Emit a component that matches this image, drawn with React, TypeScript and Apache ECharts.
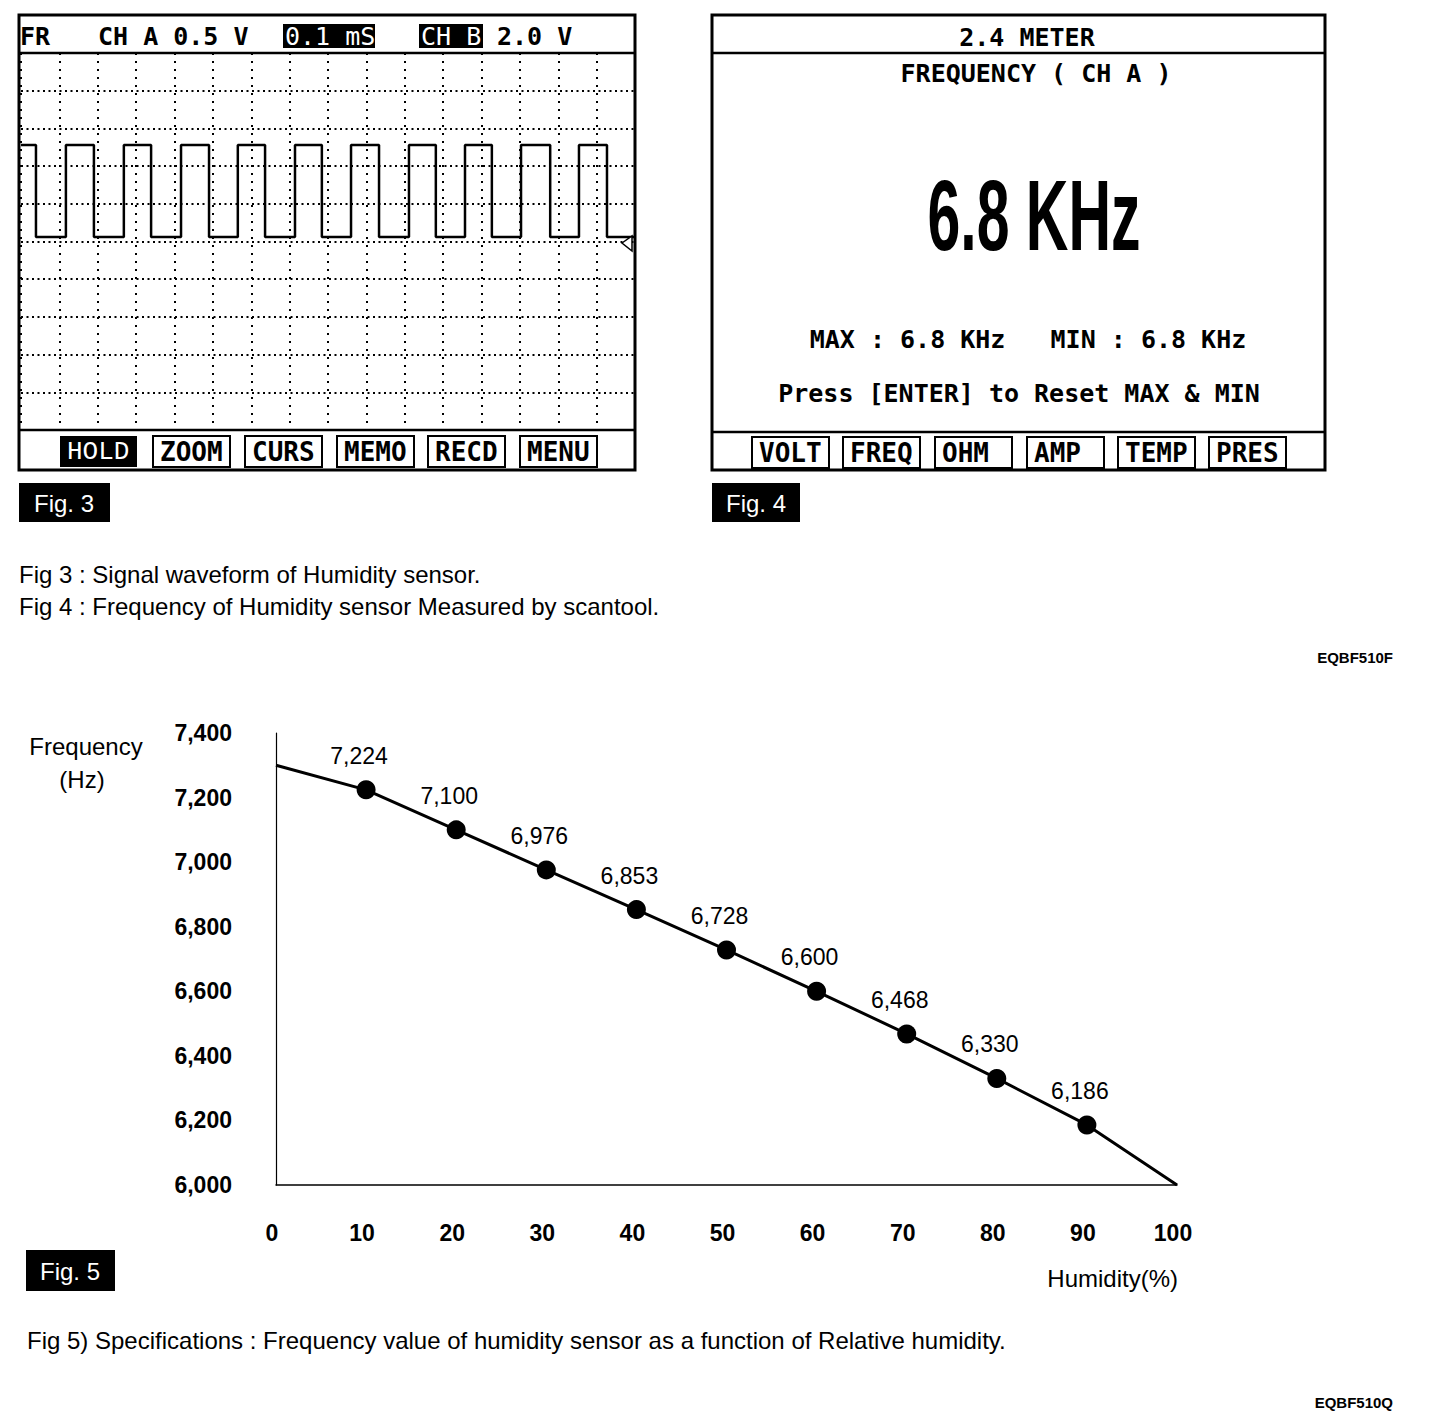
import { useEffect, useRef } from "react";
import * as echarts from "echarts";

// ---------------- Fig 5 data ----------------
const humidityPct = [0, 10, 20, 30, 40, 50, 60, 70, 80, 90, 100];
const frequencyHz = [7300, 7224, 7100, 6976, 6853, 6728, 6600, 6468, 6330, 6186, 6000];
const markedHumidity = [10, 20, 30, 40, 50, 60, 70, 80, 90];
const freqAxisMin = 6000;
const freqAxisMax = 7400;
const freqStep = 200;
const humAxisMin = 0;
const humAxisMax = 100;
const humStep = 10;

// ---------------- Fig 3 scope trace (screen divisions) ----------------
const scopeFallTimes = [0.39, 1.9, 3.39, 4.9, 6.36, 7.84, 9.33, 10.81, 12.27, 13.79, 15.27];
const scopeRiseTimes = [1.17, 2.68, 4.17, 5.65, 7.14, 8.6, 10.11, 11.57, 13.03, 14.54];
const scopeHighLevel = 7.56;
const scopeLowLevel = 5.12;
const scopeDivX = 16;
const scopeDivY = 10;

// ---------------- texts ----------------
const scopeButtons = ["HOLD", "ZOOM", "CURS", "MEMO", "RECD", "MENU"];
const meterButtons = ["VOLT", "FREQ", "OHM", "AMP", "TEMP", "PRES"];
const meterTitle = "2.4 METER";
const meterMode = "FREQUENCY ( CH A )";
const meterReading = "6.8 KHz";
const meterMaxMin = "MAX : 6.8 KHz   MIN : 6.8 KHz";
const meterHint = "Press [ENTER] to Reset MAX & MIN";
const caption3 = "Fig 3 : Signal waveform of Humidity sensor.";
const caption4 = "Fig 4 : Frequency of Humidity sensor Measured by scantool.";
const caption5 = "Fig 5) Specifications : Frequency value of humidity sensor as a function of Relative humidity.";
const code1 = "EQBF510F";
const code2 = "EQBF510Q";

const MONO = "'DejaVu Sans Mono', monospace";
const SANS = "'Liberation Sans', Arial, sans-serif";

function fmt(v: number): string {
  return v.toLocaleString("en-US");
}

function txt(x: number, y: number, text: string, o: any = {}) {
  const align = o.align || "left";
  const va = o.va || "middle";
  const el: any = {
    type: "text",
    x,
    y,
    z: o.z ?? 20,
    style: {
      text,
      fill: o.fill || "#000",
      fontSize: o.size || 20,
      fontFamily: o.family || SANS,
      fontWeight: o.weight || "normal",
      align,
      verticalAlign: va,
      textAlign: align,
      textVerticalAlign: va,
    },
  };
  if (o.scaleX) el.scaleX = o.scaleX;
  return el;
}

function rect(x: number, y: number, w: number, h: number, style: any, z = 10) {
  return { type: "rect", z, shape: { x, y, width: w, height: h }, style };
}

function line(x1: number, y1: number, x2: number, y2: number, lw = 2.5) {
  return { type: "line", z: 10, shape: { x1, y1, x2, y2 }, style: { stroke: "#000", lineWidth: lw } };
}

function buildScopeTrace(): number[][] {
  const events: { t: number; kind: "rise" | "fall" }[] = [];
  scopeFallTimes.forEach((t) => events.push({ t, kind: "fall" }));
  scopeRiseTimes.forEach((t) => events.push({ t, kind: "rise" }));
  events.sort((a, b) => a.t - b.t);
  const pts: number[][] = [[0, scopeHighLevel]];
  events.forEach((e) => {
    if (e.kind === "fall") {
      pts.push([e.t, scopeHighLevel], [e.t, scopeLowLevel]);
    } else {
      pts.push([e.t, scopeLowLevel], [e.t, scopeHighLevel]);
    }
  });
  pts.push([scopeDivX, scopeLowLevel]);
  return pts;
}

function buildGraphics() {
  const els: any[] = [];
  // ---------- Fig 3 frame ----------
  els.push(rect(19, 15, 616, 455, { fill: "none", stroke: "#000", lineWidth: 3 }));
  els.push(line(19, 53, 635, 53));
  els.push(line(19, 430, 635, 430));
  // header
  els.push(txt(20, 36, "FR", { family: MONO, size: 25, weight: "bold" }));
  els.push(txt(98, 36, "CH A 0.5 V", { family: MONO, size: 25, weight: "bold" }));
  els.push(rect(283, 24, 92, 24, { fill: "#000" }, 15));
  els.push(txt(285, 36, "0.1 mS", { family: MONO, size: 25, fill: "#fff", z: 21 }));
  els.push(rect(419, 24, 64, 24, { fill: "#000" }, 15));
  els.push(txt(421, 36, "CH B", { family: MONO, size: 25, fill: "#fff", z: 21 }));
  els.push(txt(497, 36, "2.0 V", { family: MONO, size: 25, weight: "bold" }));
  // trigger marker
  els.push({
    type: "polygon",
    z: 12,
    shape: { points: [[622, 243], [632, 236], [632, 251]] },
    style: { fill: "#fff", stroke: "#000", lineWidth: 1.5 },
  });
  // buttons
  const scopeBtnX = [60, 153, 245, 337, 428, 520];
  scopeButtons.forEach((b, i) => {
    const bx = scopeBtnX[i];
    if (i === 0) {
      els.push(rect(bx, 436, 77, 31, { fill: "#000" }, 12));
      els.push(txt(bx + 7, 452, b, { family: "'Liberation Mono', monospace", size: 26, fill: "#fff", z: 22 }));
    } else {
      els.push(rect(bx, 436, 77, 31, { fill: "#fff", stroke: "#000", lineWidth: 2 }, 12));
      els.push(txt(bx + 7, 452, b, { family: MONO, size: 26, weight: "bold", z: 22 }));
    }
  });
  // Fig. 3 tag
  els.push(rect(19, 483, 91, 39, { fill: "#000" }));
  els.push(txt(64, 503, "Fig. 3", { size: 24, fill: "#fff", align: "center" }));

  // ---------- Fig 4 frame ----------
  els.push(rect(712, 15, 613, 455, { fill: "none", stroke: "#000", lineWidth: 3 }));
  els.push(line(712, 53, 1325, 53));
  els.push(line(712, 432, 1325, 432));
  els.push(txt(1027, 37, meterTitle, { family: MONO, size: 25, weight: "bold", align: "center" }));
  els.push(txt(1036, 73, meterMode, { family: MONO, size: 25, weight: "bold", align: "center" }));
  els.push(
    txt(1034, 215, meterReading, { family: SANS, size: 100, weight: "bold", align: "center", scaleX: 0.59 })
  );
  els.push(txt(1028, 339, meterMaxMin, { family: MONO, size: 25, weight: "bold", align: "center" }));
  els.push(txt(1019, 393, meterHint, { family: MONO, size: 25, weight: "bold", align: "center" }));
  const meterBtnX = [752, 843, 935, 1027, 1118, 1209];
  meterButtons.forEach((b, i) => {
    const bx = meterBtnX[i];
    els.push(rect(bx, 437, 77, 31, { fill: "#fff", stroke: "#000", lineWidth: 2 }, 12));
    els.push(txt(bx + 7, 453, b, { family: MONO, size: 26, weight: "bold", z: 22 }));
  });
  els.push(rect(712, 483, 88, 39, { fill: "#000" }));
  els.push(txt(756, 503, "Fig. 4", { size: 24, fill: "#fff", align: "center" }));

  // ---------- captions ----------
  els.push(txt(19, 574, caption3, { size: 24 }));
  els.push(txt(19, 606, caption4, { size: 24 }));
  els.push(txt(1393, 657, code1, { size: 15, weight: "bold", align: "right" }));

  // ---------- Fig 5 decorations ----------
  els.push(txt(86, 746, "Frequency", { size: 24, align: "center" }));
  els.push(txt(82, 779, "(Hz)", { size: 24, align: "center" }));
  els.push(txt(1178, 1278, "Humidity(%)", { size: 24, align: "right" }));
  els.push(rect(26, 1250, 89, 41, { fill: "#000" }));
  els.push(txt(70, 1271, "Fig. 5", { size: 24, fill: "#fff", align: "center" }));
  els.push(txt(27, 1340, caption5, { size: 24 }));
  els.push(txt(1393, 1402, code2, { size: 15, weight: "bold", align: "right" }));
  return els;
}

export default function App() {
  const ref = useRef<HTMLDivElement>(null);
  useEffect(() => {
    if (!ref.current) return;
    const chart = echarts.init(ref.current, undefined, { renderer: "svg" });

    const curveData = humidityPct.map((h, i) => {
      const marked = markedHumidity.includes(h);
      return {
        value: [h, frequencyHz[i]],
        symbol: marked ? "circle" : "none",
        symbolSize: marked ? 19 : 0,
        label: { show: marked },
      };
    });

    const option: any = {
      animation: false,
      backgroundColor: "#fff",
      grid: [
        { left: 21, top: 53, width: 614, height: 377 },
        { left: 276, top: 733, width: 901, height: 452 },
      ],
      xAxis: [
        {
          gridIndex: 0,
          type: "value",
          min: 0,
          max: scopeDivX,
          interval: 1,
          axisLine: { show: false },
          axisTick: { show: false },
          axisLabel: { show: false },
          splitLine: { show: true, lineStyle: { color: "#000", width: 2, type: [2, 6] } },
        },
        {
          gridIndex: 1,
          type: "value",
          min: humAxisMin,
          max: humAxisMax,
          interval: humStep,
          axisLine: { show: true, onZero: false, lineStyle: { color: "#000", width: 1.5 } },
          axisTick: { show: false },
          splitLine: { show: false },
          axisLabel: {
            color: "#000",
            fontSize: 23,
            fontWeight: "bold",
            fontFamily: SANS,
            margin: 36,
            padding: [0, 8, 0, 0],
          },
        },
      ],
      yAxis: [
        {
          gridIndex: 0,
          type: "value",
          min: 0,
          max: scopeDivY,
          interval: 1,
          axisLine: { show: false },
          axisTick: { show: false },
          axisLabel: { show: false },
          splitLine: { show: true, lineStyle: { color: "#000", width: 2, type: [2, 3.5] } },
        },
        {
          gridIndex: 1,
          type: "value",
          min: freqAxisMin,
          max: freqAxisMax,
          interval: freqStep,
          axisLine: { show: true, onZero: false, lineStyle: { color: "#000", width: 1.2 } },
          axisTick: { show: false },
          splitLine: { show: false },
          axisLabel: {
            color: "#000",
            fontSize: 23,
            fontWeight: "bold",
            fontFamily: SANS,
            margin: 44,
            formatter: (v: number) => fmt(v),
          },
        },
      ],
      series: [
        {
          type: "line",
          xAxisIndex: 0,
          yAxisIndex: 0,
          data: buildScopeTrace(),
          showSymbol: false,
          symbol: "none",
          lineStyle: { color: "#000", width: 2.5 },
          silent: true,
          z: 5,
        },
        {
          type: "line",
          xAxisIndex: 1,
          yAxisIndex: 1,
          data: curveData,
          showSymbol: true,
          itemStyle: { color: "#000" },
          lineStyle: { color: "#000", width: 3 },
          silent: true,
          label: {
            show: true,
            position: [2.5, -24.5],
            align: "center",
            verticalAlign: "middle",
            color: "#000",
            fontSize: 23,
            fontFamily: SANS,
            formatter: (p: any) => fmt(p.value[1]),
          },
          z: 5,
        },
      ],
      graphic: { elements: buildGraphics() },
    };
    chart.setOption(option);
    return () => chart.dispose();
  }, []);

  return (
    <div
      ref={ref}
      style={{ position: "absolute", left: 0, top: 0, width: 1440, height: 1418, background: "#fff" }}
    />
  );
}
